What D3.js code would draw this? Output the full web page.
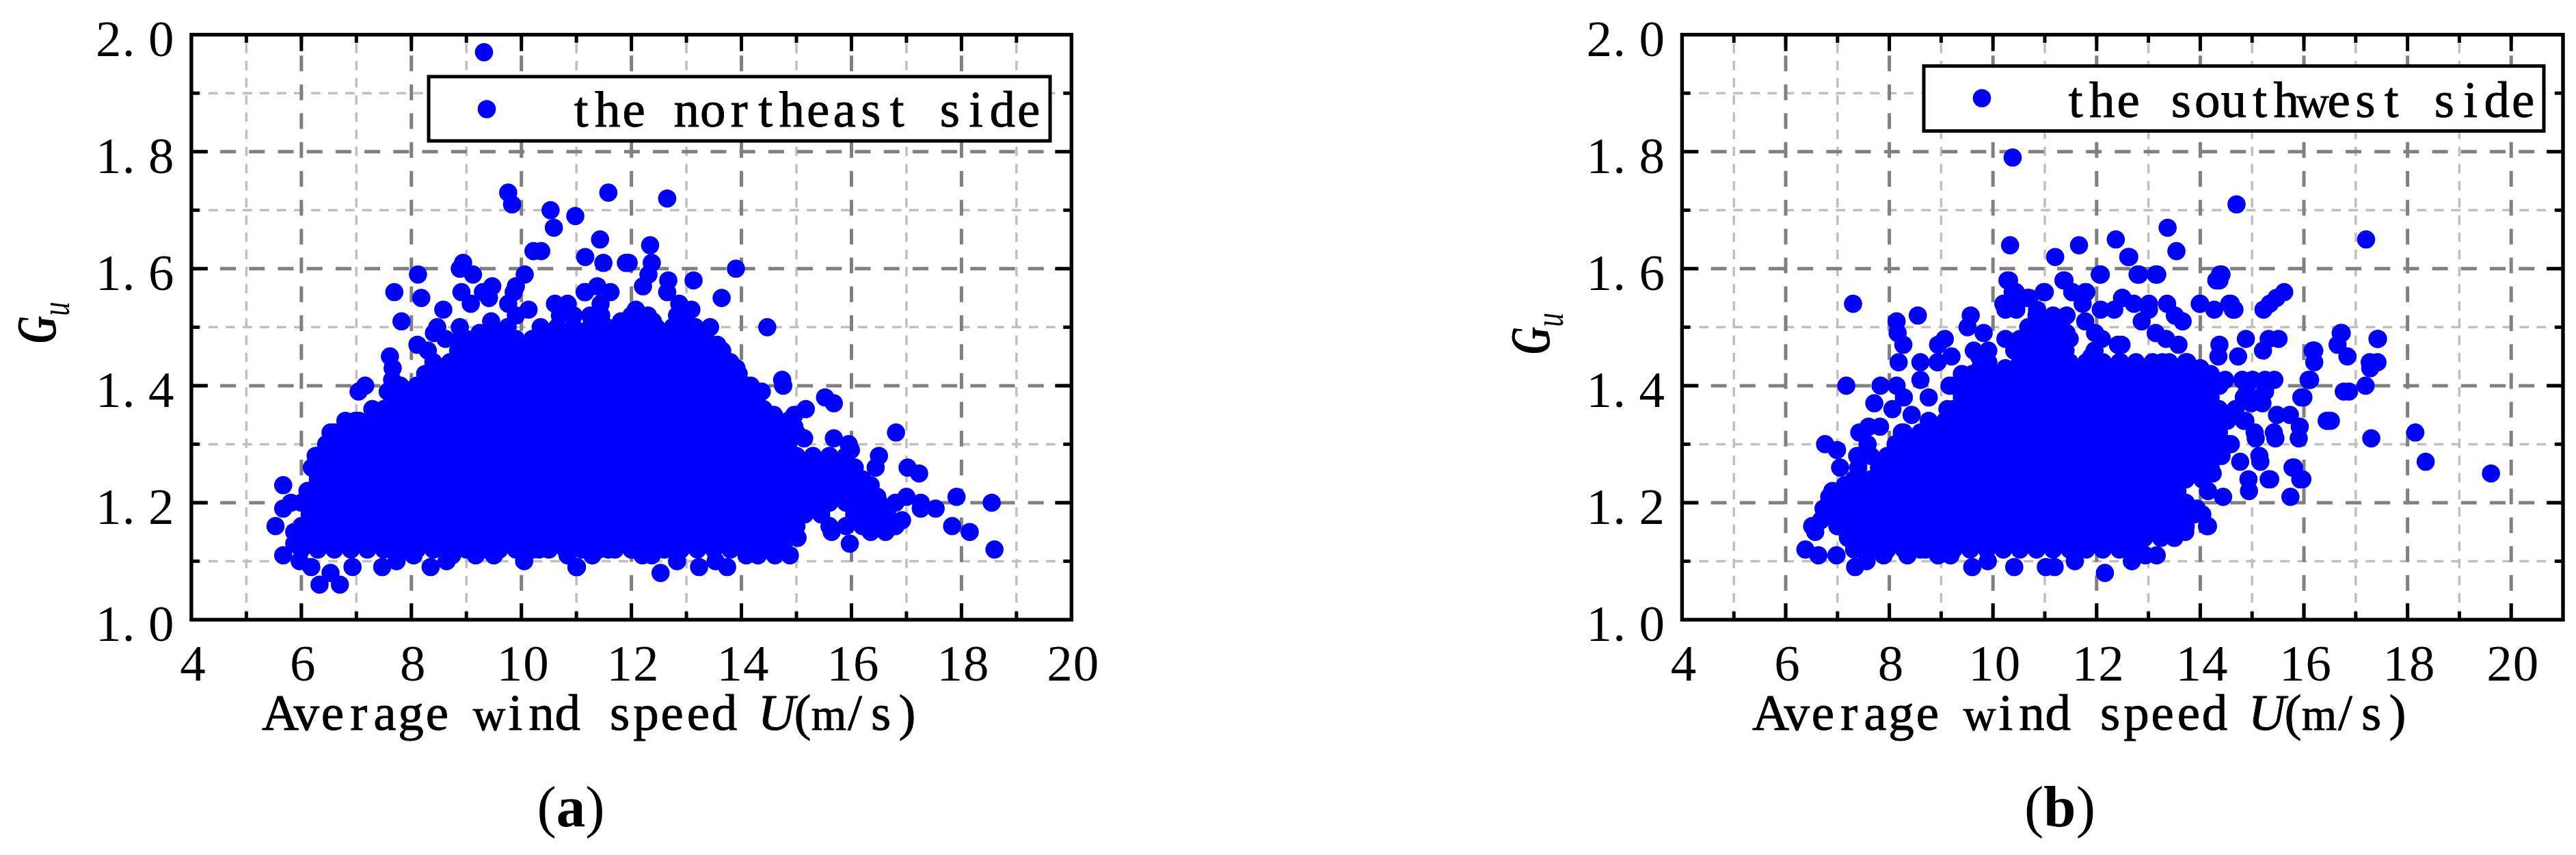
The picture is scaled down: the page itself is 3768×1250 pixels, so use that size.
<!DOCTYPE html>
<html><head><meta charset="utf-8">
<style>
html,body{margin:0;padding:0;background:#fff}
svg{display:block}
text{font-family:"Liberation Serif",serif;fill:#000;white-space:pre}
.heavy{stroke:#000;stroke-width:0.9px}
</style>
<script src="https://cdn.jsdelivr.net/npm/d3@7"></script>
</head><body><svg id="c" width="3768" height="1250"></svg>
<script>
// ---------- tick labels ----------
const majorU=[4,6,8,10,12,14,16,18,20];
const minorUa=[5,7,9,11,13,15,17,19];
const minorUb=[5,7,9,11,13,15,17,19];
const gridUa=[6,8,10,12,14,16,18];
const gridUb=[6,8,10,12,14,16,18,20];
const majorG=[1.0,1.2,1.4,1.6,1.8,2.0];
const gridG=[1.2,1.4,1.6,1.8];
const minorG=[1.1,1.3,1.5,1.7,1.9];
const legendA="the northeast side";
const legendB="the southwest side";

// ---------- panel (a): individually read points [U, Gu] ----------
const northeastEdge=[[9.32,1.97],[9.76,1.73],[9.83,1.71],[10.53,1.70],[10.59,1.67],[10.98,1.69],[11.58,1.73],[12.65,1.72],[11.43,1.65],[12.34,1.64],[10.22,1.63],[10.36,1.63],[11.16,1.62],[13.13,1.58],[13.90,1.60],[14.47,1.50],[10.06,1.59],[11.90,1.61],[11.95,1.61],[11.49,1.61],
[8.12,1.59],[8.94,1.61],[8.88,1.60],[9.12,1.59],[7.69,1.56],[8.18,1.55],[8.91,1.56],[9.47,1.57],[9.30,1.56],[9.41,1.55],[9.08,1.54],[8.58,1.53],[9.90,1.57],[9.86,1.56],[7.82,1.51],[8.47,1.50],[8.88,1.50],[8.11,1.47],[8.41,1.49],[8.30,1.46],[8.62,1.48],[8.90,1.48],[7.61,1.45],[7.66,1.43],[7.65,1.41],[7.16,1.40],[7.04,1.39],[7.57,1.39],[7.29,1.36],[6.80,1.34],[6.98,1.34],[6.53,1.32],[6.53,1.30],[6.26,1.28],[6.19,1.26],[6.11,1.22],[5.67,1.23],[5.81,1.20],[5.67,1.19],[5.53,1.16],[5.87,1.15],[5.87,1.13],[5.67,1.11],[5.97,1.10],[6.18,1.09],[6.33,1.06],[6.70,1.06],[6.53,1.08],[6.93,1.09],[7.47,1.09],[7.73,1.10],[8.04,1.11],[8.35,1.09],[8.64,1.10],[8.74,1.11],[9.17,1.11],[9.50,1.11],[10.05,1.10],[10.32,1.12],[10.84,1.11],[11.00,1.09],
[9.45,1.51],[9.24,1.49],[9.76,1.54],[10.13,1.53],[10.61,1.54],[10.84,1.54],[11.16,1.56],
[11.38,1.57],[11.15,1.56],[11.62,1.56],[11.44,1.54],[12.31,1.59],[12.21,1.57],[12.37,1.61],[12.67,1.58],[12.65,1.56],[13.64,1.55],[12.08,1.53],[11.81,1.51],[12.39,1.51],[12.87,1.54],[13.09,1.53],[12.83,1.52],[12.80,1.50],[13.16,1.50],[13.43,1.50],[13.35,1.48],[13.56,1.47],[13.78,1.44],[13.91,1.43],[14.17,1.40],[14.37,1.39],[14.74,1.41],[14.76,1.40],[15.52,1.38],[15.68,1.37],[14.59,1.35],[15.17,1.36],[14.96,1.35],[14.96,1.33],[15.14,1.31],[15.68,1.31],[15.95,1.30],[15.99,1.29],[16.06,1.26],
[16.81,1.32],[16.50,1.28],[16.44,1.26],[17.02,1.26],[17.23,1.25],[16.35,1.23],[16.47,1.21],[16.80,1.20],[17.00,1.21],[17.26,1.20],[17.26,1.19],[17.53,1.19],[17.91,1.21],[18.55,1.20],[17.83,1.16],[18.15,1.15],[18.60,1.12],[16.92,1.17],[16.62,1.15],[16.35,1.15],[15.64,1.15],[15.97,1.13],[15.02,1.14],[14.88,1.11],[14.61,1.11],[14.30,1.11],[14.09,1.11],[13.74,1.09],[13.53,1.10],[13.23,1.09],[12.83,1.10],[12.53,1.08],[12.37,1.11],[12.20,1.11],[12.06,1.12],[11.58,1.12],[11.29,1.11],[11.01,1.09]];

// panel (a): estimated points of the solid core, one row per Gu level
const northeastCore=[
[1.12,[6.0,6.3,6.6,6.9,7.2,7.5,7.8,8.1,8.4,8.7,9.0,9.3,9.6,9.9,10.2,10.5,10.8,11.1,11.4,11.7,12.0,12.3,12.6,12.9,13.2,13.5,13.8,14.1,14.4,14.7]],
[1.14,[6.15,6.45,6.75,7.05,7.35,7.65,7.95,8.25,8.55,8.85,9.15,9.45,9.75,10.05,10.35,10.65,10.95,11.25,11.55,11.85,12.15,12.45,12.75,13.05,13.35,13.65,13.95,14.25,14.55,14.85]],
[1.16,[6.0,6.3,6.6,6.9,7.2,7.5,7.8,8.1,8.4,8.7,9.0,9.3,9.6,9.9,10.2,10.5,10.8,11.1,11.4,11.7,12.0,12.3,12.6,12.9,13.2,13.5,13.8,14.1,14.4,14.7,15.0,15.6,15.9,16.2,16.5,16.8]],
[1.18,[6.15,6.45,6.75,7.05,7.35,7.65,7.95,8.25,8.55,8.85,9.15,9.45,9.75,10.05,10.35,10.65,10.95,11.25,11.55,11.85,12.15,12.45,12.75,13.05,13.35,13.65,13.95,14.25,14.55,14.85,15.15,15.45,16.05,16.35,16.65]],
[1.20,[6.0,6.3,6.6,6.9,7.2,7.5,7.8,8.1,8.4,8.7,9.0,9.3,9.6,9.9,10.2,10.5,10.8,11.1,11.4,11.7,12.0,12.3,12.6,12.9,13.2,13.5,13.8,14.1,14.4,14.7,15.0,15.3,15.6,15.9,16.2,16.5]],
[1.22,[6.15,6.45,6.75,7.05,7.35,7.65,7.95,8.25,8.55,8.85,9.15,9.45,9.75,10.05,10.35,10.65,10.95,11.25,11.55,11.85,12.15,12.45,12.75,13.05,13.35,13.65,13.95,14.25,14.55,14.85,15.15,15.45,15.75,16.05,16.35]],
[1.24,[6.3,6.6,6.9,7.2,7.5,7.8,8.1,8.4,8.7,9.0,9.3,9.6,9.9,10.2,10.5,10.8,11.1,11.4,11.7,12.0,12.3,12.6,12.9,13.2,13.5,13.8,14.1,14.4,14.7,15.0,15.3,15.6,15.9,16.2]],
[1.26,[6.45,6.75,7.05,7.35,7.65,7.95,8.25,8.55,8.85,9.15,9.45,9.75,10.05,10.35,10.65,10.95,11.25,11.55,11.85,12.15,12.45,12.75,13.05,13.35,13.65,13.95,14.25,14.55,14.85,15.15,15.45,15.75]],
[1.28,[6.3,6.6,6.9,7.2,7.5,7.8,8.1,8.4,8.7,9.0,9.3,9.6,9.9,10.2,10.5,10.8,11.1,11.4,11.7,12.0,12.3,12.6,12.9,13.2,13.5,13.8,14.1,14.4,14.7,15.0,15.3,15.6,15.9]],
[1.30,[6.45,6.75,7.05,7.35,7.65,7.95,8.25,8.55,8.85,9.15,9.45,9.75,10.05,10.35,10.65,10.95,11.25,11.55,11.85,12.15,12.45,12.75,13.05,13.35,13.65,13.95,14.25,14.55,14.85]],
[1.32,[6.6,6.9,7.2,7.5,7.8,8.1,8.4,8.7,9.0,9.3,9.6,9.9,10.2,10.5,10.8,11.1,11.4,11.7,12.0,12.3,12.6,12.9,13.2,13.5,13.8,14.1,14.4,14.7,15.0]],
[1.34,[7.05,7.35,7.65,7.95,8.25,8.55,8.85,9.15,9.45,9.75,10.05,10.35,10.65,10.95,11.25,11.55,11.85,12.15,12.45,12.75,13.05,13.35,13.65,13.95,14.25,14.55,14.85]],
[1.36,[7.5,7.8,8.1,8.4,8.7,9.0,9.3,9.6,9.9,10.2,10.5,10.8,11.1,11.4,11.7,12.0,12.3,12.6,12.9,13.2,13.5,13.8,14.1,14.4]],
[1.38,[7.65,7.95,8.25,8.55,8.85,9.15,9.45,9.75,10.05,10.35,10.65,10.95,11.25,11.55,11.85,12.15,12.45,12.75,13.05,13.35,13.65,13.95,14.25]],
[1.40,[7.8,8.1,8.4,8.7,9.0,9.3,9.6,9.9,10.2,10.5,10.8,11.1,11.4,11.7,12.0,12.3,12.6,12.9,13.2,13.5,13.8,14.1]],
[1.42,[8.25,8.55,8.85,9.15,9.45,9.75,10.05,10.35,10.65,10.95,11.25,11.55,11.85,12.15,12.45,12.75,13.05,13.35,13.65,13.95]],
[1.44,[8.4,8.7,9.0,9.3,9.6,9.9,10.2,10.5,10.8,11.1,11.4,11.7,12.0,12.3,12.6,12.9,13.2,13.5,13.8]],
[1.46,[8.85,9.15,9.45,9.75,10.05,10.35,10.65,10.95,11.25,11.55,11.85,12.15,12.45,12.75,13.05,13.35,13.65]],
[1.48,[9.0,9.3,9.6,9.9,10.2,10.5,10.8,11.1,11.4,11.7,12.0,12.3,12.6,12.9,13.2]],
[1.50,[9.45,9.75,10.35,10.65,10.95,11.25,11.55,11.85,12.15,12.45,12.75,13.05]],
[1.52,[9.9,10.7,10.95,11.25,11.45,12.0,12.3,13.0]]];

// ---------- panel (b): individually read points [U, Gu] ----------
const southwestEdge=[[10.38,1.79],[14.70,1.71],[17.20,1.65],[13.37,1.67],[13.54,1.63],[12.37,1.65],[12.61,1.62],[11.20,1.62],[11.66,1.64],[10.33,1.64],[12.06,1.59],[12.79,1.59],[13.14,1.59],[14.38,1.59],[14.31,1.58],[11.36,1.58],[10.28,1.58],[11.78,1.56],[11.53,1.56],[10.98,1.56],[10.38,1.56],[10.66,1.55],[12.49,1.55],[10.20,1.54],[13.99,1.54],[14.56,1.54],[14.63,1.53],[19.61,1.25],[18.15,1.32],[18.35,1.27],[15.74,1.21],[15.93,1.24],[15.78,1.26],[15.32,1.24],[16.44,1.34],[17.42,1.48],[17.42,1.44],[16.71,1.49],[16.17,1.46],[16.20,1.44],[16.09,1.41],[15.95,1.38],[14.13,1.16],
[7.30,1.54],[8.55,1.52],[8.14,1.51],[8.16,1.49],[8.27,1.47],[8.18,1.44],[8.60,1.44],[8.60,1.41],[7.83,1.40],[8.14,1.40],[7.17,1.40],[7.71,1.37],[8.06,1.36],[8.28,1.38],[8.76,1.38],[9.07,1.48],[8.94,1.47],[8.93,1.44],[9.20,1.45],[9.57,1.52],[9.51,1.50],[9.82,1.49],[9.63,1.46],[9.91,1.46],[9.73,1.45],[9.91,1.44],[9.75,1.43],[9.60,1.42],[10.31,1.58],[10.44,1.56],[10.24,1.54],[10.24,1.53],[10.45,1.53],[10.70,1.55],[11.00,1.56],[10.85,1.53],[11.38,1.58],[11.53,1.56],[11.80,1.56],[11.73,1.54],[12.08,1.59],[12.08,1.53],[12.34,1.53],[12.50,1.55],[11.42,1.52],[10.80,1.50],[11.16,1.51],[10.24,1.48],[11.78,1.51],[11.97,1.49],[12.10,1.48],[12.41,1.47],[12.46,1.44],[11.40,1.46],[11.90,1.45],[11.42,1.49],[10.41,1.46],[10.24,1.43],[9.16,1.40],[9.42,1.38],[9.12,1.36],[8.43,1.35],[8.24,1.32],[7.82,1.33],[7.60,1.33],[7.42,1.32],[6.76,1.30],[6.99,1.29],[7.38,1.28],[7.58,1.30],[7.05,1.26],[7.40,1.26],[7.14,1.23],[6.90,1.22],[6.84,1.21],[6.73,1.19],[7.00,1.16],[6.51,1.16],[6.57,1.15],[6.68,1.17],[6.38,1.12],[6.63,1.11],[6.98,1.11],[7.34,1.09],[7.56,1.10],[7.89,1.11],[8.35,1.11],[8.70,1.12],[8.94,1.11],[9.18,1.11],[9.60,1.09],[9.90,1.10],[10.41,1.09],[11.02,1.09],[11.19,1.09],[11.58,1.10],[12.16,1.08],
[12.63,1.62],[12.82,1.59],[13.17,1.59],[14.41,1.59],[14.37,1.58],[15.62,1.56],[15.47,1.55],[15.34,1.54],[15.22,1.53],[14.00,1.54],[14.27,1.53],[14.59,1.54],[14.66,1.53],[13.36,1.54],[13.51,1.52],[13.66,1.51],[13.01,1.54],[13.01,1.53],[12.72,1.54],[12.87,1.51],[13.14,1.49],[13.34,1.48],[13.58,1.47],[14.37,1.47],[14.35,1.45],[14.88,1.48],[15.32,1.48],[15.51,1.48],[15.21,1.46],[14.73,1.45],[16.73,1.49],[16.65,1.47],[16.84,1.45],[16.20,1.46],[17.43,1.48],[17.27,1.44],[17.28,1.43],[16.12,1.41],[15.99,1.38],[17.19,1.40],[16.87,1.39],[16.77,1.39],[16.46,1.34],[16.52,1.34],[15.48,1.35],[15.73,1.35],[15.92,1.33],[15.42,1.32],[15.45,1.31],[15.90,1.31],[17.30,1.31],[15.81,1.26],[15.97,1.24],[15.35,1.24],[14.94,1.22],[14.93,1.24],[14.44,1.21],[14.15,1.22],[14.77,1.27],[15.16,1.27],[15.14,1.28],[15.07,1.31],[15.05,1.32],[14.59,1.30],[14.24,1.25],[14.41,1.28],[14.15,1.16],[13.71,1.15],[14.04,1.18],[13.93,1.19],[13.50,1.14],[13.16,1.11],[12.94,1.11],[12.68,1.10],[14.48,1.41],[14.81,1.41],[15.01,1.41],[15.25,1.41],[15.43,1.41],[14.90,1.39],[15.25,1.39],[15.20,1.37],[14.98,1.37],[14.37,1.40],[14.87,1.34],[12.87,1.42],[13.75,1.44],[13.27,1.44],[14.00,1.43],[12.48,1.47]];

// panel (b): estimated points of the solid core, one row per Gu level
const southwestCore=[
[1.12,[7.32,7.64,7.96,8.28,8.6,8.92,9.24,9.56,9.88,10.2,10.52,10.84,11.16,11.48,11.8,12.12,12.44,12.76]],
[1.14,[7.2,7.48,7.8,8.12,8.44,8.76,9.08,9.4,9.72,10.04,10.36,10.68,11.0,11.32,11.64,11.96,12.28,12.6,12.92,13.24]],
[1.16,[7.0,7.32,7.64,7.96,8.28,8.6,8.92,9.24,9.56,9.88,10.2,10.52,10.84,11.16,11.48,11.8,12.12,12.44,12.76,13.08,13.4,13.72]],
[1.18,[6.84,7.16,7.48,7.8,8.12,8.44,8.76,9.08,9.4,9.72,10.04,10.36,10.68,11.0,11.32,11.64,11.96,12.28,12.6,12.92,13.24,13.56,13.88]],
[1.20,[7.0,7.32,7.64,7.96,8.28,8.6,8.92,9.24,9.56,9.88,10.2,10.52,10.84,11.16,11.48,11.8,12.12,12.44,12.76,13.08,13.4,13.72]],
[1.22,[7.16,7.48,7.8,8.12,8.44,8.76,9.08,9.4,9.72,10.04,10.36,10.68,11.0,11.32,11.64,11.96,12.28,12.6,12.92,13.24,13.56]],
[1.24,[7.32,7.64,7.96,8.28,8.6,8.92,9.24,9.56,9.88,10.2,10.52,10.84,11.16,11.48,11.8,12.12,12.44,12.76,13.08,13.4,13.72,14.04]],
[1.26,[7.8,8.12,8.44,8.76,9.08,9.4,9.72,10.04,10.36,10.68,11.0,11.32,11.64,11.96,12.28,12.6,12.92,13.24,13.56,13.88,14.2]],
[1.28,[7.64,7.96,8.28,8.6,8.92,9.24,9.56,9.88,10.2,10.52,10.84,11.16,11.48,11.8,12.12,12.44,12.76,13.08,13.4,13.72,14.04,14.36]],
[1.30,[8.12,8.44,8.76,9.08,9.4,9.72,10.04,10.36,10.68,11.0,11.32,11.64,11.96,12.28,12.6,12.92,13.24,13.56,13.88,14.2,14.52]],
[1.32,[8.28,8.6,8.92,9.24,9.56,9.88,10.2,10.52,10.84,11.16,11.48,11.8,12.12,12.44,12.76,13.08,13.4,13.72,14.04,14.36]],
[1.34,[8.76,9.08,9.4,9.72,10.04,10.36,10.68,11.0,11.32,11.64,11.96,12.28,12.6,12.92,13.24,13.56,13.88,14.2,14.52,14.84]],
[1.36,[9.24,9.56,9.88,10.2,10.52,10.84,11.16,11.48,11.8,12.12,12.44,12.76,13.08,13.4,13.72,14.04,14.36,14.68]],
[1.38,[9.4,9.72,10.04,10.36,10.68,11.0,11.32,11.64,11.96,12.28,12.6,12.92,13.24,13.56,13.88,14.2,14.84,15.16]],
[1.40,[9.24,9.56,9.88,10.2,10.52,10.84,11.16,11.48,11.8,12.12,12.44,12.76,13.08,13.4,13.72,14.04]],
[1.42,[9.4,9.72,10.04,10.36,10.68,11.0,11.32,11.64,11.96,12.28,12.6,12.92,13.24,13.56,13.88,14.2]],
[1.44,[10.52,10.84,11.16,11.48,11.8,12.12,12.44,12.76,13.08,13.4,13.72]],
[1.46,[10.68,11.0,11.32,11.96]],
[1.48,[10.52,10.84,11.16,11.48]],
[1.50,[10.68,11.0,11.32]],
[1.52,[10.84,11.16]]];

// ---------- page layout ----------
const svg=d3.select("#c");
const cfg=[
 {key:"a",edge:northeastEdge,core:northeastCore,domU:[4,20],rng:[279.9,1567.3],gridU:gridUa,minorU:minorUa,
  legend:legendA,box:[627,112,909,94],mark:[712,159.5],lx:831,lb:185,title:391,gx:81,gy:502,cap:"a",capX:835},
 {key:"b",edge:southwestEdge,core:southwestCore,domU:[4,21],rng:[2460.4,3749],gridU:gridUb,minorU:minorUb,
  legend:legendB,box:[2814,96.5,907,95],mark:[2899,143.5],lx:3017,lb:171,title:2571,gx:2266,gy:518,cap:"b",capX:3013}];
const TOP=50.7,BOT=906,ADV=38.5,FS=75,R=13.3;

// one text, each character centred in a fixed cell like the reference's half-width face
function cells(textSel,x0,adv,size,italicAt){
 textSel.each(function(){
  const t=d3.select(this),s=t.text();t.text(null);
  [...s].forEach((ch,i)=>{
   const wide=ch==="w"||ch==="m";
   const sp=t.append("tspan").attr("x",x0+adv*(i+.5)+(ch==="."?-9:0)).attr("text-anchor","middle")
     .style("font-size",(wide?size*.88:size)+"px").text(ch);
   if(italicAt===i)sp.style("font-style","italic");
  });
 });
}

cfg.forEach(p=>{
 const x=d3.scaleLinear().domain(p.domU).range(p.rng);
 const y=d3.scaleLinear().domain([1,2]).range([BOT,TOP]);
 const W=p.rng[1]-p.rng[0],H=BOT-TOP;
 const g=svg.append("g").attr("class","panel-"+p.key);

 // grid
 const grid=(gen,col,w,dash,tx,ty)=>{
  const a=g.append("g").attr("transform",`translate(${tx},${ty})`).call(gen);
  a.select(".domain").remove();a.selectAll("text").remove();
  a.selectAll("line").attr("stroke",col).attr("stroke-width",w).attr("stroke-dasharray",dash);
 };
 grid(d3.axisBottom(x).offset(0).tickValues(p.minorU).tickSize(-H),"#bfbfbf",3.5,"13.8 11.3",0,BOT);
 grid(d3.axisLeft(y).offset(0).tickValues(minorG).tickSize(-W),"#bfbfbf",3.5,"13.8 11.2",p.rng[0],0);
 grid(d3.axisBottom(x).offset(0).tickValues(p.gridU).tickSize(-H),"#808080",5,"23 19.2",0,BOT);
 grid(d3.axisLeft(y).offset(0).tickValues(gridG).tickSize(-W),"#808080",5,"23 19.2",p.rng[0],0);

 // points
 const pts=[...p.core.flatMap(([G,us])=>us.map(U=>[U,G])),...p.edge];
 g.append("g").selectAll("circle").data(pts).join("circle")
  .attr("cx",d=>x(d[0])).attr("cy",d=>y(d[1])).attr("r",R).attr("fill","#0000ff");

 // ticks on all four sides
 const ticks=(gen,len,tx,ty)=>{
  const a=g.append("g").attr("transform",`translate(${tx},${ty})`).call(gen.offset(0).tickSize(len));
  a.select(".domain").remove();a.selectAll("text").remove();
  a.selectAll("line").attr("stroke","#000").attr("stroke-width",5);
 };
 const topMajor=majorU.filter(v=>v>p.domU[0]&&v<p.domU[1]);
 ticks(d3.axisBottom(x).tickValues(topMajor),-24,0,BOT);
 ticks(d3.axisBottom(x).tickValues(p.minorU),-12,0,BOT);
 ticks(d3.axisTop(x).tickValues(topMajor),-24,0,TOP);
 ticks(d3.axisTop(x).tickValues(p.minorU),-12,0,TOP);
 ticks(d3.axisLeft(y).tickValues(gridG),-24,p.rng[0],0);
 ticks(d3.axisLeft(y).tickValues(minorG),-12,p.rng[0],0);
 ticks(d3.axisRight(y).tickValues(gridG),-24,p.rng[1],0);
 ticks(d3.axisRight(y).tickValues(minorG),-12,p.rng[1],0);

 // frame
 g.append("rect").attr("x",p.rng[0]).attr("y",TOP).attr("width",W).attr("height",H)
  .attr("fill","none").attr("stroke","#000").attr("stroke-width",5.4);

 // tick labels
 const xl=g.append("g").selectAll("text").data(majorU).join("text")
  .attr("y",995).style("font-size",FS+"px").text(d=>d);
 xl.each(function(d){const s=String(d);cells(d3.select(this),x(d)-s.length*ADV/2+2,ADV,FS);});
 const yl=g.append("g").selectAll("text").data(majorG).join("text")
  .attr("y",d=>y(d)+31).style("font-size",FS+"px").text(d=>d3.format(".1f")(d));
 yl.each(function(){cells(d3.select(this),p.rng[0]-25-3*ADV,ADV,FS);});

 // axis titles
 const xt=g.append("text").attr("class","heavy").attr("y",1067).style("font-size",FS+"px").text("Average wind speed U(m/s)");
 cells(xt,p.title,38.2,FS,19);
 const yt=g.append("text").attr("transform",`translate(${p.gx},${p.gy}) rotate(-90) scale(0.68,1)`)
  .style("font-style","italic").style("font-weight","bold").style("font-size","82px");
 yt.append("tspan").text("G");
 yt.append("tspan").attr("dy",20).style("font-size","60px").style("font-weight","normal").text("u");

 // legend
 const [bx,by,bw,bh]=p.box;
 g.append("rect").attr("x",bx).attr("y",by).attr("width",bw).attr("height",bh)
  .attr("fill","#fff").attr("stroke","#000").attr("stroke-width",5);
 g.append("circle").attr("cx",p.mark[0]).attr("cy",p.mark[1]).attr("r",R).attr("fill","#0000ff");
 const lt=g.append("text").attr("class","heavy").attr("y",p.lb).style("font-size",FS+"px").text(p.legend);
 cells(lt,p.lx,ADV,FS);

 // panel caption
 const cp=svg.append("text").attr("x",p.capX).attr("y",1208).attr("text-anchor","middle").style("font-size","85px");
 cp.append("tspan").text("(");
 cp.append("tspan").style("font-weight","bold").text(p.cap);
 cp.append("tspan").text(")");
});
</script></body></html>
